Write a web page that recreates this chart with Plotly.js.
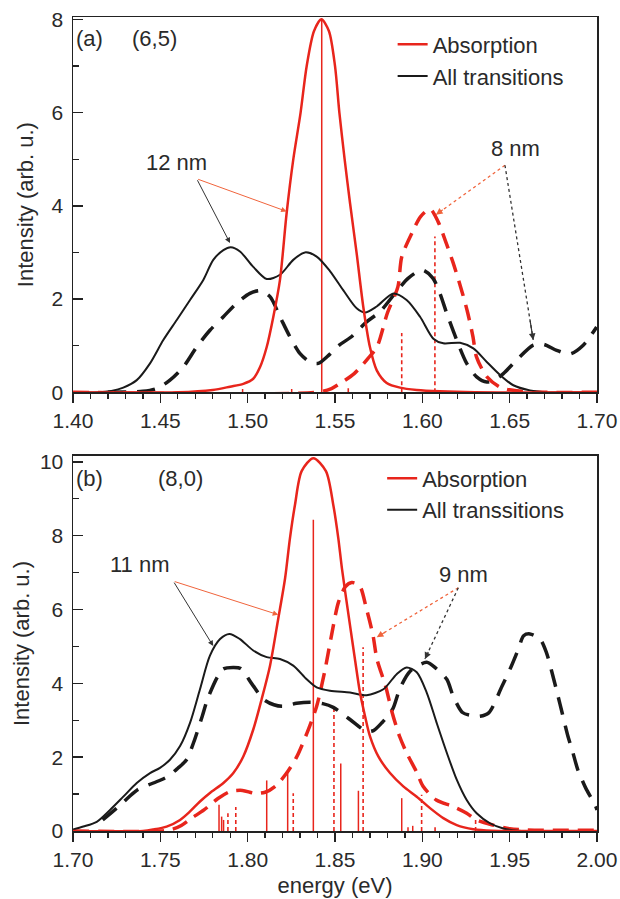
<!DOCTYPE html>
<html>
<head>
<meta charset="utf-8">
<script src="https://cdn.plot.ly/plotly-3.0.1.min.js"></script>
<style>html,body{margin:0;padding:0;background:#fff;}#chart{width:620px;height:899px;}</style>
</head>
<body>
<div id="chart"></div>
<script>
// ---------- Panel (a): (6,5) ----------
const aRedX   = [1.40,1.46,1.48,1.4899,1.4975,1.5032,1.5071,1.5109,1.5147,1.5185,1.5223,1.5261,1.5303,1.5338,1.5380,1.5422,1.5465,1.5500,1.5525,1.5555,1.5586,1.5624,1.5662,1.5700,1.5739,1.5796,1.5872,1.5968,1.61,1.63,1.70];
const aRedY   = [0,0,0.05,0.12,0.18,0.29,0.54,0.97,1.62,2.41,3.84,4.99,6.0,7.0,7.75,8.0,7.75,7.0,6.0,5.0,4.06,2.98,1.83,0.97,0.47,0.20,0.10,0.05,0.02,0,0];
const aBlackX = [1.40,1.415,1.422,1.4288,1.4365,1.4441,1.4517,1.4594,1.4670,1.4746,1.4803,1.4861,1.4903,1.4956,1.5032,1.5109,1.5185,1.5261,1.5328,1.5395,1.5471,1.5547,1.5624,1.5672,1.5739,1.5834,1.5910,1.5987,1.6063,1.6120,1.6216,1.6292,1.6369,1.6445,1.6521,1.6616,1.67,1.70];
const aBlackY = [0,0,0.03,0.10,0.26,0.62,1.12,1.55,1.98,2.41,2.84,3.05,3.11,3.02,2.69,2.43,2.52,2.84,3.00,2.91,2.60,2.19,1.80,1.71,1.84,2.12,1.98,1.62,1.15,1.05,1.06,0.94,0.65,0.37,0.15,0.04,0,0];
const aBlackDashX = [1.42,1.44,1.448,1.4555,1.4631,1.4708,1.4784,1.4861,1.4937,1.5013,1.5071,1.5128,1.5185,1.5242,1.5300,1.5357,1.5404,1.5460,1.5520,1.5590,1.5681,1.5758,1.5850,1.5920,1.6000,1.6060,1.6101,1.6140,1.6197,1.6254,1.6311,1.6369,1.6420,1.6464,1.6540,1.6635,1.6693,1.6769,1.6845,1.6921,1.6998];
const aBlackDashY = [0,0.02,0.08,0.26,0.54,0.97,1.33,1.62,1.91,2.12,2.18,2.05,1.62,1.19,0.83,0.65,0.62,0.78,1.00,1.18,1.51,1.73,2.15,2.45,2.62,2.45,2.12,1.69,1.12,0.62,0.33,0.22,0.28,0.40,0.69,1.01,1.03,0.90,0.82,1.01,1.40];
const aRedDashX = [1.40,1.54,1.548,1.553,1.561,1.569,1.574,1.580,1.586,1.5882,1.594,1.599,1.6044,1.609,1.613,1.6177,1.623,1.626,1.629,1.631,1.637,1.645,1.654,1.67,1.70];
const aRedDashY = [0,0,0.08,0.19,0.40,0.73,0.97,1.70,2.26,2.90,3.41,3.77,3.93,3.66,3.27,2.77,2.12,1.70,1.19,0.76,0.33,0.10,0.03,0,0];
const aStickSolidX = [1.4971,1.5252,1.5424];
const aStickSolidH = [0.07,0.07,8.0];
const aStickDashX  = [1.5576,1.5882,1.6072];
const aStickDashH  = [0.12,1.27,3.34];

// ---------- Panel (b): (8,0) ----------
const bRedX   = [1.70,1.74,1.746,1.7536,1.7613,1.7670,1.7727,1.7784,1.7861,1.7918,1.7975,1.8032,1.8080,1.8128,1.8175,1.8214,1.8242,1.8271,1.8309,1.8376,1.8448,1.8490,1.8519,1.8540,1.8586,1.8614,1.8643,1.8672,1.8700,1.8748,1.8815,1.8891,1.8968,1.9044,1.9120,1.9197,1.9292,1.94,2.00];
const bRedY   = [0,0,0.04,0.12,0.30,0.53,0.80,1.03,1.30,1.57,2.02,2.75,3.57,4.48,5.75,6.84,7.93,8.84,9.75,10.1,9.75,8.84,7.93,7.10,5.57,4.66,3.75,3.11,2.57,2.02,1.57,1.21,0.93,0.62,0.35,0.16,0.05,0.01,0];
const bBlackX = [1.700,1.7059,1.7136,1.7212,1.7288,1.7365,1.7441,1.7498,1.7555,1.7613,1.7670,1.7727,1.7784,1.7842,1.7895,1.7956,1.8032,1.8109,1.8185,1.8261,1.8338,1.8395,1.8471,1.8586,1.8681,1.8777,1.8853,1.8910,1.8968,1.9025,1.9082,1.9140,1.9197,1.9254,1.9311,1.9387,1.9464,1.955,1.97,2.00];
const bBlackY = [0.04,0.12,0.25,0.57,0.93,1.30,1.57,1.71,1.93,2.30,2.93,3.84,4.75,5.20,5.34,5.20,4.89,4.71,4.66,4.48,4.11,3.89,3.80,3.75,3.68,3.84,4.25,4.43,4.30,3.75,2.93,2.12,1.39,0.84,0.48,0.21,0.07,0.01,0,0];
const bBlackDashX = [1.717,1.722,1.727,1.732,1.737,1.746,1.754,1.760,1.765,1.769,1.774,1.777,1.783,1.786,1.7918,1.796,1.8025,1.809,1.815,1.820,1.828,1.836,1.843,1.849,1.8586,1.868,1.872,1.877,1.883,1.887,1.893,1.9025,1.908,1.914,1.9177,1.923,1.928,1.933,1.938,1.9456,1.951,1.955,1.958,1.9616,1.9674,1.971,1.9742,1.9777,1.9800,1.9834,1.9857,1.989,1.9914,1.994,1.999,2.000];
const bBlackDashY = [0.30,0.50,0.70,0.92,1.12,1.30,1.47,1.70,1.93,2.39,3.11,3.57,4.20,4.39,4.43,4.40,3.98,3.57,3.42,3.38,3.46,3.49,3.45,3.35,3.02,2.70,2.72,2.94,3.30,3.84,4.33,4.57,4.40,4.11,3.65,3.21,3.13,3.11,3.20,3.92,4.47,4.93,5.29,5.34,5.20,4.84,4.30,3.65,3.21,2.56,2.21,1.66,1.39,1.12,0.70,0.57];
const bRedDashX = [1.70,1.75,1.757,1.762,1.768,1.775,1.783,1.790,1.797,1.804,1.810,1.816,1.822,1.828,1.834,1.8395,1.844,1.848,1.852,1.856,1.8596,1.864,1.868,1.8718,1.874,1.879,1.8827,1.887,1.891,1.897,1.9004,1.908,1.9177,1.9254,1.931,1.9406,1.950,1.96,2.00];
const bRedDashY = [0,0,0.05,0.15,0.35,0.57,0.88,1.07,1.10,1.02,1.05,1.22,1.55,2.00,2.66,3.38,4.30,5.30,6.20,6.62,6.73,6.65,6.02,5.29,4.66,3.92,3.21,2.56,2.12,1.57,1.21,0.84,0.66,0.48,0.30,0.16,0.06,0.03,0.02];
const bStickSolidX = [1.7836,1.7851,1.7862,1.8109,1.8229,1.8376,1.8533,1.8634,1.8882,1.8918,1.8945];
const bStickSolidH = [0.71,0.39,0.30,1.37,1.57,8.43,1.83,1.09,0.89,0.10,0.14];
const bStickDashX  = [1.7887,1.7932,1.8261,1.8494,1.8661,1.8996,1.9073,1.9305];
const bStickDashH  = [0.48,0.65,1.02,3.35,4.98,0.98,0.10,0.35];

const xTicksA = [1.40,1.45,1.50,1.55,1.60,1.65,1.70];
const xTicksB = [1.70,1.75,1.80,1.85,1.90,1.95,2.00];

// ---------- styling ----------
const FONT = 'Liberation Sans, Arial, Helvetica, sans-serif';
const RED = '#e8251c';
const BLACK = '#1a1a1a';
const TXT = '#2a2a2a';

function sticks(xs, hs) {
  const x = [], y = [];
  xs.forEach((v, i) => { x.push(v, v, null); y.push(0, hs[i], null); });
  return {x, y};
}

function panel(xa, ya, lg, d, legName) {
  const ss = sticks(d.ssx, d.ssh), sd = sticks(d.sdx, d.sdh);
  return [
    {x: ss.x, y: ss.y, xaxis: xa, yaxis: ya, mode: 'lines', line: {color: RED, width: 1.5}, showlegend: false, hoverinfo: 'skip'},
    {x: sd.x, y: sd.y, xaxis: xa, yaxis: ya, mode: 'lines', line: {color: RED, width: 1.6, dash: '4px,3px'}, showlegend: false, hoverinfo: 'skip'},
    {x: d.kdx, y: d.kdy, xaxis: xa, yaxis: ya, mode: 'lines', line: {color: BLACK, width: 3.5, dash: '18px,11px', shape: 'spline', smoothing: 0.8}, showlegend: false},
    {x: d.rdx, y: d.rdy, xaxis: xa, yaxis: ya, mode: 'lines', line: {color: RED, width: 3.5, dash: '16px,9px', shape: 'spline', smoothing: 0.8}, showlegend: false},
    {x: d.kx, y: d.ky, xaxis: xa, yaxis: ya, mode: 'lines', name: legName, legend: lg, legendrank: 2, line: {color: BLACK, width: 2, shape: 'spline', smoothing: 0.8}},
    {x: d.rx, y: d.ry, xaxis: xa, yaxis: ya, mode: 'lines', name: 'Absorption', legend: lg, legendrank: 1, line: {color: RED, width: 2.5, shape: 'spline', smoothing: 0.8}}
  ];
}

const data = [].concat(
  panel('x', 'y', 'legend', {ssx: aStickSolidX, ssh: aStickSolidH, sdx: aStickDashX, sdh: aStickDashH,
    kdx: aBlackDashX, kdy: aBlackDashY, rdx: aRedDashX, rdy: aRedDashY, kx: aBlackX, ky: aBlackY, rx: aRedX, ry: aRedY}, 'All transitions'),
  panel('x2', 'y2', 'legend2', {ssx: bStickSolidX, ssh: bStickSolidH, sdx: bStickDashX, sdh: bStickDashH,
    kdx: bBlackDashX, kdy: bBlackDashY, rdx: bRedDashX, rdy: bRedDashY, kx: bBlackX, ky: bBlackY, rx: bRedX, ry: bRedY}, 'All transsitions')
);

function xax(range, ticks, anchor, title) {
  const o = {
    range: range, anchor: anchor, tickmode: 'array', tickvals: ticks, ticktext: ticks.map(v => v.toFixed(2)),
    ticks: 'outside', ticklen: 9, tickwidth: 1.5, tickcolor: '#222',
    minor: {dtick: 0.01, tick0: range[0], ticks: 'outside', ticklen: 5, tickwidth: 1.3, tickcolor: '#222'},
    showline: true, mirror: true, linewidth: 1.5, linecolor: '#222', showgrid: false, zeroline: false,
    tickfont: {family: FONT, size: 21, color: TXT}, automargin: false
  };
  if (title) o.title = {text: title, font: {family: FONT, size: 22, color: TXT}, standoff: 8};
  return o;
}
function yax(range, domain, anchor, standoff) {
  return {
    range: range, domain: domain, anchor: anchor, dtick: 2, tick0: 0,
    ticks: 'inside', ticklen: 10, tickwidth: 1.5, tickcolor: '#222',
    minor: {dtick: 1, ticks: 'inside', ticklen: 6, tickwidth: 1.3, tickcolor: '#222'},
    showline: true, mirror: true, linewidth: 1.5, linecolor: '#222', showgrid: false, zeroline: false,
    tickfont: {family: FONT, size: 21, color: TXT}, ticklabelstandoff: 4, automargin: false,
    title: {text: 'Intensity (arb. u.)', font: {family: FONT, size: 22, color: TXT}, standoff: standoff}
  };
}

function label(xr, yr, x, y, t) {
  return {xref: xr, yref: yr, x: x, y: y, text: t, showarrow: false, font: {family: FONT, size: 22, color: TXT}};
}
function arrow(xr, yr, from, tip, color) {
  return {xref: xr, yref: yr, axref: xr, ayref: yr, x: tip[0], y: tip[1], ax: from[0], ay: from[1], text: '',
    showarrow: true, arrowhead: 2, arrowsize: 1.1, arrowwidth: 1, arrowcolor: color};
}
function dotArrow(xr, yr, from, tip, color, shapes, anns) {
  shapes.push({type: 'line', xref: xr, yref: yr, x0: from[0], y0: from[1], x1: tip[0], y1: tip[1], line: {color: color, width: 1.3, dash: 'dot'}});
  const f = 0.12;
  anns.push({xref: xr, yref: yr, axref: xr, ayref: yr, x: tip[0], y: tip[1],
    ax: tip[0] + (from[0] - tip[0]) * f, ay: tip[1] + (from[1] - tip[1]) * f, text: '',
    showarrow: true, arrowhead: 2, arrowsize: 1.1, arrowwidth: 1.2, arrowcolor: color});
}

const ARED = '#f0643c', ABLK = '#333333';
const shapes = [];
const annotations = [
  label('x', 'y', 1.4094, 7.59, '(a)'),
  label('x', 'y', 1.4464, 7.59, '(6,5)'),
  label('x', 'y', 1.4590, 4.92, '12 nm'),
  label('x', 'y', 1.6536, 5.23, '8 nm'),
  arrow('x', 'y', [1.4708, 4.58], [1.4899, 3.20], ABLK),
  arrow('x', 'y', [1.4708, 4.58], [1.5223, 3.88], ARED),
  label('x2', 'y2', 1.7094, 9.56, '(b)'),
  label('x2', 'y2', 1.7613, 9.56, '(8,0)'),
  label('x2', 'y2', 1.7381, 7.21, '11 nm'),
  label('x2', 'y2', 1.9233, 6.95, '9 nm'),
  arrow('x2', 'y2', [1.7574, 6.77], [1.7803, 5.01], ABLK),
  arrow('x2', 'y2', [1.7574, 6.77], [1.8175, 5.86], ARED)
];
dotArrow('x', 'y', [1.6473, 4.87], [1.6078, 3.81], ARED, shapes, annotations);
dotArrow('x', 'y', [1.6473, 4.87], [1.6635, 1.12], ABLK, shapes, annotations);
dotArrow('x2', 'y2', [1.9206, 6.59], [1.8739, 5.25], ARED, shapes, annotations);
dotArrow('x2', 'y2', [1.9206, 6.59], [1.9015, 4.66], ABLK, shapes, annotations);

const legendBase = {xanchor: 'left', yanchor: 'top', bgcolor: 'rgba(0,0,0,0)', borderwidth: 0,
  font: {family: FONT, size: 22, color: TXT}, tracegroupgap: 0, traceorder: 'normal'};

const layout = {
  width: 620, height: 899,
  margin: {l: 73, r: 23, t: 17, b: 68},
  paper_bgcolor: '#fff', plot_bgcolor: '#fff',
  showlegend: true,
  legend: Object.assign({x: 0.61, y: 0.992}, legendBase),
  legend2: Object.assign({x: 0.59, y: 0.459}, legendBase),
  xaxis: xax([1.40, 1.70], xTicksA, 'y', null),
  yaxis: yax([0, 8.05], [0.539, 1], 'x', 12),
  xaxis2: xax([1.70, 2.00], xTicksB, 'y2', 'energy (eV)'),
  yaxis2: yax([0, 10.16], [0, 0.4607], 'x2', 4),
  annotations: annotations,
  shapes: shapes
};

Plotly.newPlot('chart', data, layout, {displayModeBar: false, staticPlot: true});
</script>
</body>
</html>
